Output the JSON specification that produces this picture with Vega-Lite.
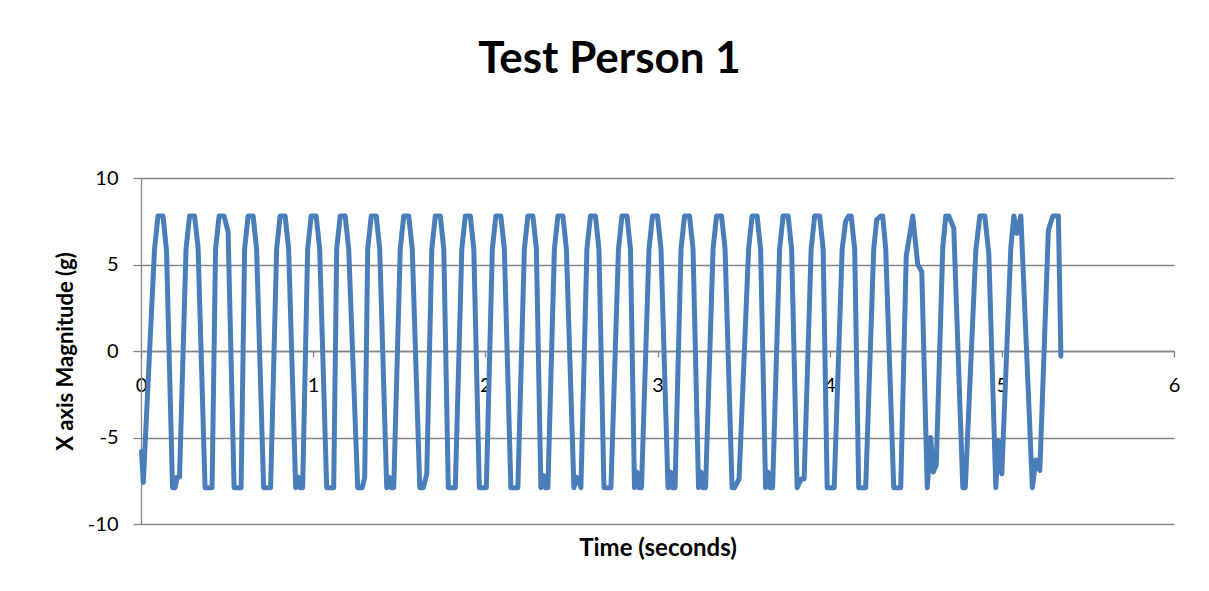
{
  "$schema": "https://vega.github.io/schema/vega-lite/v6.json",
  "autosize": "none",
  "width": 1033,
  "height": 346,
  "padding": {"left": 141, "top": 178, "right": 35, "bottom": 67},
  "background": "white",
  "title": {"text": "Test Person 1", "font": "Lato", "fontSize": 44, "fontWeight": "bold", "color": "#000000", "anchor": "middle", "offset": 86, "dx": -48},
  "data": {"values": [
    {"t": 0.0029, "g": -5.8}, {"t": 0.0134, "g": -7.6},
    {"t": 0.0785, "g": 5.9}, {"t": 0.0988, "g": 7.8}, {"t": 0.1279, "g": 7.8}, {"t": 0.1483, "g": 5.8},
    {"t": 0.1831, "g": -7.9}, {"t": 0.1977, "g": -7.9}, {"t": 0.2093, "g": -7.3}, {"t": 0.2238, "g": -7.3},
    {"t": 0.2616, "g": 5.9}, {"t": 0.2820, "g": 7.8}, {"t": 0.3110, "g": 7.8}, {"t": 0.3314, "g": 6.0},
    {"t": 0.3721, "g": -7.9}, {"t": 0.4128, "g": -7.9},
    {"t": 0.4331, "g": 5.9}, {"t": 0.4535, "g": 7.8}, {"t": 0.4826, "g": 7.8}, {"t": 0.5058, "g": 6.9},
    {"t": 0.5407, "g": -7.9}, {"t": 0.5814, "g": -7.9},
    {"t": 0.6017, "g": 5.9}, {"t": 0.6221, "g": 7.8}, {"t": 0.6512, "g": 7.8}, {"t": 0.6715, "g": 5.9},
    {"t": 0.7122, "g": -7.9}, {"t": 0.7529, "g": -7.9},
    {"t": 0.7878, "g": 5.9}, {"t": 0.8081, "g": 7.8}, {"t": 0.8372, "g": 7.8}, {"t": 0.8576, "g": 5.9},
    {"t": 0.8983, "g": -7.9}, {"t": 0.9128, "g": -7.3}, {"t": 0.9244, "g": -7.9}, {"t": 0.9390, "g": -7.9},
    {"t": 0.9680, "g": 5.9}, {"t": 0.9884, "g": 7.8}, {"t": 1.0174, "g": 7.8}, {"t": 1.0378, "g": 5.9},
    {"t": 1.0785, "g": -7.9}, {"t": 1.1192, "g": -7.9},
    {"t": 1.1366, "g": 5.9}, {"t": 1.1570, "g": 7.8}, {"t": 1.1860, "g": 7.8}, {"t": 1.2064, "g": 5.9},
    {"t": 1.2587, "g": -7.9}, {"t": 1.2849, "g": -7.9}, {"t": 1.2994, "g": -7.3},
    {"t": 1.3169, "g": 5.9}, {"t": 1.3372, "g": 7.8}, {"t": 1.3663, "g": 7.8}, {"t": 1.3866, "g": 5.9},
    {"t": 1.4273, "g": -7.9}, {"t": 1.4419, "g": -7.3}, {"t": 1.4535, "g": -7.9}, {"t": 1.4680, "g": -7.9},
    {"t": 1.5058, "g": 5.9}, {"t": 1.5262, "g": 7.8}, {"t": 1.5552, "g": 7.8}, {"t": 1.5756, "g": 5.9},
    {"t": 1.6192, "g": -7.9}, {"t": 1.6395, "g": -7.9}, {"t": 1.6599, "g": -7.1},
    {"t": 1.6890, "g": 5.9}, {"t": 1.7093, "g": 7.8}, {"t": 1.7384, "g": 7.8}, {"t": 1.7587, "g": 5.9},
    {"t": 1.7849, "g": -7.9}, {"t": 1.8256, "g": -7.9},
    {"t": 1.8634, "g": 5.9}, {"t": 1.8837, "g": 7.8}, {"t": 1.9128, "g": 7.8}, {"t": 1.9331, "g": 5.9},
    {"t": 1.9651, "g": -7.9}, {"t": 2.0058, "g": -7.9},
    {"t": 2.0407, "g": 5.9}, {"t": 2.0610, "g": 7.8}, {"t": 2.0901, "g": 7.8}, {"t": 2.1105, "g": 5.9},
    {"t": 2.1483, "g": -7.9}, {"t": 2.1890, "g": -7.9},
    {"t": 2.2267, "g": 5.9}, {"t": 2.2471, "g": 7.8}, {"t": 2.2762, "g": 7.8}, {"t": 2.2965, "g": 5.9},
    {"t": 2.3227, "g": -7.9}, {"t": 2.3372, "g": -7.2}, {"t": 2.3488, "g": -7.9}, {"t": 2.3634, "g": -7.9},
    {"t": 2.4012, "g": 5.9}, {"t": 2.4215, "g": 7.8}, {"t": 2.4506, "g": 7.8}, {"t": 2.4709, "g": 5.9},
    {"t": 2.5145, "g": -7.9}, {"t": 2.5291, "g": -7.3}, {"t": 2.5407, "g": -7.4}, {"t": 2.5552, "g": -7.9},
    {"t": 2.5901, "g": 5.9}, {"t": 2.6105, "g": 7.8}, {"t": 2.6395, "g": 7.8}, {"t": 2.6599, "g": 5.9},
    {"t": 2.6890, "g": -7.9}, {"t": 2.7297, "g": -7.9},
    {"t": 2.7733, "g": 5.9}, {"t": 2.7936, "g": 7.8}, {"t": 2.8227, "g": 7.8}, {"t": 2.8430, "g": 5.9},
    {"t": 2.8663, "g": -7.9}, {"t": 2.8808, "g": -7.0}, {"t": 2.8924, "g": -7.9}, {"t": 2.9070, "g": -7.9},
    {"t": 2.9506, "g": 5.9}, {"t": 2.9709, "g": 7.8}, {"t": 3.0000, "g": 7.8}, {"t": 3.0203, "g": 5.9},
    {"t": 3.0610, "g": -7.9}, {"t": 3.0756, "g": -7.0}, {"t": 3.0872, "g": -7.9}, {"t": 3.1017, "g": -7.9},
    {"t": 3.1366, "g": 5.9}, {"t": 3.1570, "g": 7.8}, {"t": 3.1860, "g": 7.8}, {"t": 3.2064, "g": 5.9},
    {"t": 3.2384, "g": -7.9}, {"t": 3.2529, "g": -7.0}, {"t": 3.2645, "g": -7.9}, {"t": 3.2791, "g": -7.9},
    {"t": 3.3227, "g": 5.9}, {"t": 3.3430, "g": 7.8}, {"t": 3.3721, "g": 7.8}, {"t": 3.3924, "g": 5.9},
    {"t": 3.4331, "g": -7.9}, {"t": 3.4477, "g": -7.9}, {"t": 3.4738, "g": -7.4},
    {"t": 3.5291, "g": 5.9}, {"t": 3.5494, "g": 7.8}, {"t": 3.5785, "g": 7.8}, {"t": 3.5988, "g": 5.9},
    {"t": 3.6279, "g": -7.9}, {"t": 3.6424, "g": -7.0}, {"t": 3.6541, "g": -7.9}, {"t": 3.6686, "g": -7.9},
    {"t": 3.7093, "g": 5.9}, {"t": 3.7297, "g": 7.8}, {"t": 3.7587, "g": 7.8}, {"t": 3.7791, "g": 5.9},
    {"t": 3.8110, "g": -7.9}, {"t": 3.8343, "g": -7.4}, {"t": 3.8517, "g": -7.4},
    {"t": 3.8924, "g": 5.9}, {"t": 3.9128, "g": 7.8}, {"t": 3.9419, "g": 7.8}, {"t": 3.9622, "g": 5.9},
    {"t": 3.9855, "g": -7.9}, {"t": 4.0262, "g": -7.9},
    {"t": 4.0727, "g": 5.9}, {"t": 4.0930, "g": 7.5}, {"t": 4.1105, "g": 7.8}, {"t": 4.1250, "g": 7.8}, {"t": 4.1453, "g": 5.9},
    {"t": 4.1686, "g": -7.9}, {"t": 4.2093, "g": -7.9},
    {"t": 4.2558, "g": 5.9}, {"t": 4.2733, "g": 7.6}, {"t": 4.2965, "g": 7.8}, {"t": 4.3081, "g": 7.8}, {"t": 4.3256, "g": 5.9},
    {"t": 4.3721, "g": -7.9}, {"t": 4.4128, "g": -7.9},
    {"t": 4.4448, "g": 5.5}, {"t": 4.4826, "g": 7.8}, {"t": 4.5116, "g": 5.0}, {"t": 4.5349, "g": 4.6},
    {"t": 4.5669, "g": -7.9}, {"t": 4.5872, "g": -5.0}, {"t": 4.6017, "g": -7.0}, {"t": 4.6192, "g": -6.6},
    {"t": 4.6570, "g": 6.0}, {"t": 4.6744, "g": 7.8}, {"t": 4.6919, "g": 7.8}, {"t": 4.7209, "g": 7.1},
    {"t": 4.7733, "g": -7.9}, {"t": 4.7878, "g": -7.9},
    {"t": 4.8488, "g": 5.8}, {"t": 4.8721, "g": 7.8}, {"t": 4.9012, "g": 7.8}, {"t": 4.9244, "g": 5.6},
    {"t": 4.9651, "g": -7.9}, {"t": 4.9797, "g": -5.2}, {"t": 5.0000, "g": -7.1},
    {"t": 5.0523, "g": 6.0}, {"t": 5.0698, "g": 7.8}, {"t": 5.0872, "g": 6.8}, {"t": 5.1105, "g": 7.8},
    {"t": 5.1773, "g": -7.9}, {"t": 5.1977, "g": -6.3}, {"t": 5.2209, "g": -6.9},
    {"t": 5.2703, "g": 7.0}, {"t": 5.2965, "g": 7.8}, {"t": 5.3285, "g": 7.8}, {"t": 5.3430, "g": -0.3}
  ]},
  "mark": {"type": "line", "color": "#4A7EBB", "strokeWidth": 5, "strokeJoin": "round", "strokeCap": "round", "clip": false},
  "encoding": {
    "x": {
      "field": "t", "type": "quantitative", "sort": null,
      "scale": {"domain": [0, 6], "nice": false, "zero": false},
      "axis": {
        "title": "Time (seconds)", "offset": -173, "values": [0, 1, 2, 3, 4, 5, 6], "labelExpr": "'' + datum.value",
        "grid": false, "domainColor": "#868686", "domainWidth": 1.3, "tickColor": "#868686", "tickWidth": 1.3, "tickSize": 6,
        "labelFont": "Lato", "labelFontSize": 20, "labelColor": "#000000", "labelPadding": 18, "labelFlush": false, "labelOverlap": false,
        "titleFont": "Lato", "titleFontSize": 24, "titleFontWeight": "bold", "titleColor": "#000000", "titleBaseline": "alphabetic", "titleY": 204
      }
    },
    "y": {
      "field": "g", "type": "quantitative",
      "scale": {"domain": [-10, 10], "nice": false, "zero": false},
      "axis": {
        "title": "X axis Magnitude (g)", "values": [-10, -5, 0, 5, 10], "labelExpr": "'' + datum.value",
        "grid": true, "gridColor": "#868686", "gridWidth": 1.3,
        "domainColor": "#868686", "domainWidth": 1.3, "tickColor": "#868686", "tickWidth": 1.3, "tickSize": 8,
        "labelFont": "Lato", "labelFontSize": 20, "labelColor": "#000000", "labelPadding": 15,
        "titleFont": "Lato", "titleFontSize": 22, "titleFontWeight": "bold", "titleColor": "#000000", "titlePadding": 10
      }
    }
  },
  "config": {"view": {"stroke": null}}
}
